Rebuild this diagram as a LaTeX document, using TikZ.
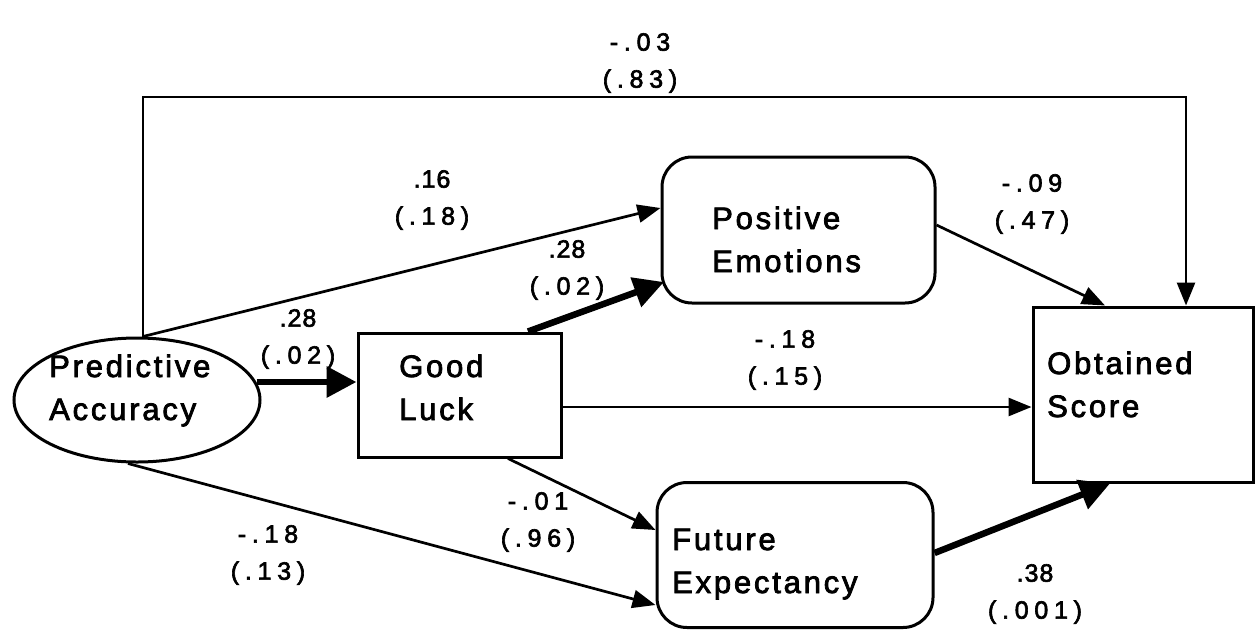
\documentclass[tikz,border=0pt]{standalone}
\usepackage{fontspec}
\setmainfont{Liberation Sans}
\newfontfamily\boxfont[LetterSpace=9,FakeBold=2.5]{Liberation Sans}
\newfontfamily\numfont[LetterSpace=23,FakeBold=2.5]{Liberation Sans}
\newfontfamily\numtight[LetterSpace=4,FakeBold=2.5]{Liberation Sans}
\usetikzlibrary{arrows.meta,shapes.geometric,calc}
\begin{document}
\begin{tikzpicture}[x=1pt,y=-1pt,
  shapebox/.style={draw,line width=3pt,inner sep=0pt},
  roundbox/.style={shapebox,rounded corners=30pt},
  boxtext/.style={inner sep=0pt,anchor=base west,align=left,
    font=\boxfont\fontsize{31}{43}\selectfont},
  coef/.style={inner sep=0pt,align=center,
    font=\numfont\fontsize{25}{37}\selectfont},
  thinarr/.style={line width=2.7pt,-{Triangle[length=23pt,width=18pt]}},
  thickarr/.style={line width=6.5pt,-{Triangle[length=30pt,width=30pt]}}]
\useasboundingbox (0,0) rectangle (1257,632);

% variables
\node[shapebox,ellipse,minimum width=246pt,minimum height=124pt] (pa) at (137,400) {};
\node[shapebox,minimum width=203pt,minimum height=124pt] (gl) at (459.5,395) {};
\node[roundbox,minimum width=273pt,minimum height=146pt] (pe) at (798.5,230) {};
\node[roundbox,minimum width=276pt,minimum height=145pt] (fe) at (795,555) {};
\node[shapebox,minimum width=220pt,minimum height=175pt] (os) at (1143,394.5) {};

% variable names (anchored on the baseline of the second line)
\node[boxtext] (pa-t) at (49,420) {Predictive\\Accuracy};
\node[boxtext] (gl-t) at (399,420) {Good\\Luck};
\node[boxtext] (pe-t) at (712,272) {Positive\\Emotions};
\node[boxtext] (fe-t) at (672,593) {Future\\Expectancy};
\node[boxtext] (os-t) at (1047,417) {Obtained\\Score};

% paths
\coordinate (pa-top) at ($(pa.north)+(6,0)$);
\draw[thinarr] (pa-top) -- (pa-top |- 0,97) -- (1186,97) -- (os.north -| 1186,0);
\draw[thinarr] (pa-top) -- (pe.west |- 0,208);
\draw[thickarr] ($(pa.east)+(-5,-18)$) -- (gl.west |- 0,382);
\draw[thickarr] (gl.north -| 528,0) -- (664,282);
\draw[thinarr] (gl.east |- 0,407) -- (os.west |- 0,407);
\draw[thinarr] (gl.south -| 508,0) -- (fe.west |- 0,530);
\draw[thinarr] ($(pa.south)+(-9,0)$) -- (fe.west |- 0,605);
\draw[thinarr] ($(pe.east)+(0,-5)$) -- (os.north -| 1105,0);
\draw[thickarr] (fe.east |- 0,553) -- (os.south -| 1110,0);

% path coefficients (p-values)
\node[coef] (c1) at (640,63) {-.03\\(.83)};
\node[coef] (c2) at (432,200) {{\numtight .16}\\(.18)};
\node[coef] (c3) at (567,270) {{\numtight .28}\\(.02)};
\node[coef] (c4) at (298,339) {{\numtight .28}\\(.02)};
\node[coef] (c5) at (785,360) {-.18\\(.15)};
\node[coef] (c6) at (1032,204) {-.09\\(.47)};
\node[coef] (c7) at (538,522) {-.01\\(.96)};
\node[coef] (c8) at (268,555) {-.18\\(.13)};
\node[coef] (c9) at (1035,594) {{\numtight .38}\\(.001)};
\end{tikzpicture}
\end{document}
